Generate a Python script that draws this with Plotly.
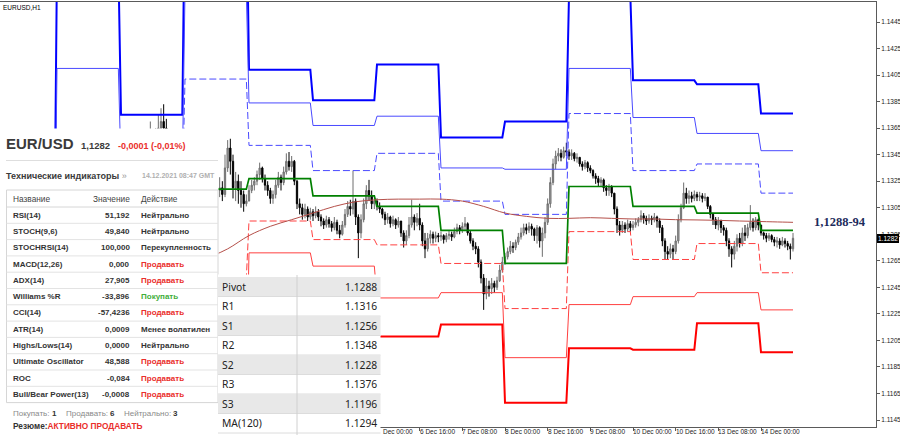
import plotly.graph_objects as go

# ---------------- DATA ----------------
# H1 bars; bar index 0 = 6 Dec 00:00 (weekends skipped). Prices stored as pips above 1.1200.
FIRST_BAR = -90
FIRST_OPEN = 42
close_pips = [45, 50, 75, 95, 130, 150, 140, 155, 165, 170, 165, 150, 145, 140, 142, 135, 138, 138,
              142, 145, 143, 146, 150, 148, 140, 136, 130, 126, 122, 120, 118, 120, 115, 135, 150, 140, 120, 125, 118, 115, 108, 110,
              118, 122, 125, 130, 135, 127, 122, 118, 112, 115, 122, 128, 124, 132, 140, 136, 140, 125, 108, 105, 100, 104, 98, 102,
              99, 102, 98, 95, 92, 96, 93, 90, 94, 88, 85, 92, 100, 106, 104, 110, 98, 86, 96, 108, 118, 114, 108, 110,
              106, 104, 100, 96, 98, 93, 96, 92, 95, 86, 80, 84, 92, 98, 94, 97, 92, 80, 74, 82, 85, 82, 84, 83,
              84, 81, 84, 85, 83, 87, 90, 88, 91, 93, 86, 80, 76, 74, 64, 52, 40, 46, 44, 48, 45, 50, 58, 64,
              68, 72, 76, 75, 79, 83, 86, 90, 88, 91, 89, 84, 90, 80, 86, 94, 108, 124, 138, 144, 146, 143, 148, 147,
              144, 146, 142, 143, 138, 136, 139, 135, 133, 129, 127, 124, 126, 120, 118, 121, 116, 104, 92, 88, 92, 89, 93, 90,
              92, 94, 96, 99, 97, 95, 97, 96, 98, 95, 90, 80, 72, 70, 74, 72, 80, 96, 105, 116, 112, 114, 112, 115,
              113, 114, 112, 113, 106, 100, 96, 92, 95, 90, 88, 80, 74, 70, 76, 82, 78, 86, 84, 90, 94, 90, 96, 92,
              86, 84, 82, 84, 81, 79, 80, 77, 80, 78, 76, 74, 82]
high_pips = [52, 58, 85, 110, 150, 170, 158, 165, 175, 180, 183, 172, 155, 150, 148, 145, 144, 142,
             146, 148, 147, 150, 156, 154, 150, 142, 138, 133, 128, 126, 126, 128, 125, 145, 156, 157, 145, 132, 130, 125, 118, 115,
             122, 126, 128, 133, 139, 136, 130, 125, 120, 118, 126, 132, 130, 136, 146, 147, 144, 141, 126, 112, 108, 108, 106, 105,
             104, 106, 104, 100, 97, 99, 98, 95, 98, 96, 92, 95, 104, 110, 111, 133, 112, 100, 100, 112, 122, 126, 118, 114,
             112, 109, 105, 102, 101, 99, 99, 97, 98, 95, 88, 88, 98, 111, 100, 101, 108, 94, 86, 86, 88, 87, 87, 86,
             87, 85, 86, 88, 87, 90, 93, 92, 94, 98, 94, 88, 82, 79, 76, 66, 55, 52, 50, 52, 50, 53, 62, 68,
             71, 75, 80, 79, 81, 86, 90, 93, 93, 94, 93, 90, 92, 91, 90, 98, 112, 128, 142, 148, 150, 149, 151, 154,
             149, 149, 147, 146, 143, 140, 141, 140, 137, 134, 131, 129, 128, 127, 122, 123, 122, 116, 106, 95, 95, 94, 96, 95,
             95, 97, 98, 103, 101, 99, 100, 99, 101, 99, 97, 92, 82, 76, 78, 77, 84, 100, 108, 124, 120, 118, 117, 118,
             117, 117, 116, 116, 112, 107, 101, 98, 98, 96, 92, 90, 82, 76, 80, 85, 86, 90, 92, 93, 107, 97, 98, 97,
             90, 87, 86, 86, 85, 83, 83, 82, 83, 82, 80, 78, 86]
low_pips = [40, 38, 48, 72, 92, 125, 128, 135, 150, 158, 155, 145, 135, 130, 132, 128, 130, 133,
            135, 139, 140, 141, 144, 143, 136, 130, 125, 120, 116, 114, 112, 113, 110, 113, 132, 130, 112, 110, 108, 105, 102, 106,
            110, 116, 118, 122, 126, 124, 118, 114, 108, 108, 112, 120, 118, 122, 130, 133, 132, 122, 104, 100, 96, 97, 95, 96,
            95, 97, 95, 91, 89, 90, 90, 87, 88, 85, 82, 84, 90, 98, 99, 100, 92, 67, 82, 94, 104, 110, 104, 104,
            103, 101, 97, 92, 93, 90, 91, 89, 90, 83, 75, 77, 82, 90, 88, 91, 88, 76, 67, 72, 78, 78, 79, 79,
            80, 78, 79, 81, 80, 82, 85, 85, 86, 88, 84, 78, 73, 70, 60, 48, 28, 36, 38, 40, 41, 43, 49, 56,
            62, 66, 70, 71, 73, 77, 81, 84, 85, 86, 84, 80, 78, 75, 68, 82, 92, 105, 122, 134, 140, 140, 142, 144,
            141, 141, 140, 139, 136, 133, 134, 132, 131, 127, 123, 121, 121, 117, 114, 114, 113, 100, 86, 84, 86, 86, 87, 87,
            88, 90, 91, 94, 93, 92, 93, 92, 94, 90, 86, 76, 66, 66, 67, 66, 70, 78, 94, 104, 108, 108, 109, 110,
            110, 110, 109, 110, 104, 97, 92, 89, 88, 86, 84, 76, 68, 60, 66, 72, 75, 76, 80, 82, 88, 87, 88, 88,
            84, 81, 79, 80, 79, 76, 75, 74, 76, 75, 73, 66, 72]

# Daily pivot levels (26 Nov ... 14 Dec), each day = 24 H1 bars
day_names = ["26 Nov", "29 Nov", "30 Nov", "1 Dec", "2 Dec", "3 Dec", "6 Dec",
             "7 Dec", "8 Dec", "9 Dec", "10 Dec", "13 Dec", "14 Dec"]
day_first_bar = [-144, -120, -96, -72, -48, -24, 0, 24, 48, 72, 96, 120, 144]
LAST_BAR = 156
lvl_pivot = [1.1208, 1.1278, 1.1272, 1.1319, 1.1327, 1.1314, 1.1306, 1.1288, 1.1263, 1.1321, 1.1306, 1.1301, 1.1288]
lvl_r1 = [1.1231, 1.1358, 1.1311, 1.1402, 1.1352, 1.1333, 1.1346, 1.1310, 1.1300, 1.1376, 1.1333, 1.1338, 1.1316]
lvl_r2 = [1.1252, 1.1410, 1.1336, 1.1467, 1.1384, 1.1367, 1.1374, 1.1335, 1.1334, 1.1410, 1.1373, 1.1361, 1.1348]
lvl_r3 = [1.1275, 1.1490, 1.1375, 1.1550, 1.1409, 1.1386, 1.1413, 1.1358, 1.1370, 1.1465, 1.1401, 1.1398, 1.1376]
lvl_s1 = [1.1187, 1.1226, 1.1247, 1.1252, 1.1295, 1.1281, 1.1277, 1.1263, 1.1229, 1.1287, 1.1266, 1.1278, 1.1256]
lvl_s2 = [1.1164, 1.1146, 1.1208, 1.1171, 1.1271, 1.1261, 1.1237, 1.1241, 1.1192, 1.1232, 1.1238, 1.1241, 1.1228]
lvl_s3 = [1.1143, 1.1094, 1.1183, 1.1107, 1.1238, 1.1228, 1.1208, 1.1217, 1.1158, 1.1199, 1.1198, 1.1218, 1.1196]

# MA(120) read at sample bars (pips above 1.1200)
ma_bar = [-62, -56, -48, -40, -32, -24, -16, -8, 0, 8, 16, 24, 32, 40, 48, 56, 64, 72, 80, 88,
          96, 104, 112, 120, 128, 136, 144, 152, 156]
ma_pips = [68.5, 74, 84, 91, 96, 101, 106, 109.5, 111, 111.5, 111.5, 111.5, 110, 106, 101, 98.5, 97, 97,
           97.5, 97, 96.5, 96.5, 96, 95.8, 95.5, 95, 94.6, 94.2, 94]

# axis labels
x_tick_bars = [16, 32, 48, 64, 80, 96, 112, 128, 144]
x_tick_text = ["6 Dec 16:00", "7 Dec 08:00", "8 Dec 00:00", "8 Dec 16:00", "9 Dec 08:00",
               "10 Dec 00:00", "10 Dec 16:00", "13 Dec 08:00", "14 Dec 00:00"]
y_ticks = [1.1145, 1.1165, 1.1185, 1.1205, 1.1225, 1.1245, 1.1265, 1.1285,
           1.1305, 1.1325, 1.1345, 1.1365, 1.1385, 1.1405, 1.1425, 1.1445]
last_price = 1.1282

# widget texts
ind_names = ["RSI(14)", "STOCH(9,6)", "STOCHRSI(14)", "MACD(12,26)", "ADX(14)", "Williams %R", "CCI(14)",
             "ATR(14)", "Highs/Lows(14)", "Ultimate Oscillator", "ROC", "Bull/Bear Power(13)"]
ind_values = ["51,192", "49,840", "100,000", "0,000", "27,905", "-33,896", "-57,4236", "0,0009", "0,0000",
              "48,588", "-0,084", "-0,0008"]
ind_actions = ["Нейтрально", "Нейтрально", "Перекупленность", "Продавать", "Продавать", "Покупать", "Продавать",
               "Менее волатилен", "Нейтрально", "Продавать", "Продавать", "Продавать"]
pv_labels = ["Pivot", "R1", "S1", "R2", "S2", "R3", "S3", "MA(120)"]
pv_values = ["1.1288", "1.1316", "1.1256", "1.1348", "1.1228", "1.1376", "1.1196", "1.1294"]

# ---------------- BUILD ----------------
def to_price(v):
    return round(1.12 + v / 10000.0, 5)

bars = list(range(FIRST_BAR, FIRST_BAR + len(close_pips)))
closes = [to_price(v) for v in close_pips]
opens = [to_price(FIRST_OPEN)] + closes[:-1]
highs = [max(to_price(h), o, c) for h, o, c in zip(high_pips, opens, closes)]
lows = [min(to_price(l), o, c) for l, o, c in zip(low_pips, opens, closes)]

pv_bars = list(range(day_first_bar[0], LAST_BAR + 1))


def step_series(levels):
    out = []
    for b in pv_bars:
        d = max(k for k in range(len(day_first_bar)) if day_first_bar[k] <= b)
        out.append(levels[d])
    return out


fig = go.Figure()
line_specs = [
    (lvl_r3, "#0000ff", 2.0, "solid"),
    (lvl_r2, "#4a4aff", 1.0, "solid"),
    (lvl_r1, "#4a4aff", 1.0, "7px,3px"),
    (lvl_s3, "#ff0000", 2.0, "solid"),
    (lvl_s2, "#ff4040", 1.0, "solid"),
    (lvl_s1, "#ff4040", 1.0, "7px,3px"),
    (lvl_pivot, "#008000", 1.7, "solid"),
]
for lv, col, w, dash in line_specs:
    fig.add_trace(go.Scatter(x=pv_bars, y=step_series(lv), mode="lines",
                             line=dict(color=col, width=w, dash=dash), hoverinfo="skip"))

fig.add_trace(go.Scatter(x=ma_bar, y=[to_price(v) for v in ma_pips], mode="lines",
                         line=dict(color="#b5504a", width=1, shape="spline"), hoverinfo="skip"))

fig.add_trace(go.Candlestick(
    x=bars, open=opens, high=highs, low=lows, close=closes,
    increasing=dict(line=dict(color="#6e6e6e", width=1), fillcolor="#a9a9a9"),
    decreasing=dict(line=dict(color="#000000", width=1), fillcolor="#000000"),
    whiskerwidth=0, hoverinfo="skip"))

# ---------------- LAYOUT ----------------
W, H = 900, 435
ML, MR, MT, MB = 0, 24, 2, 8
PW, PH = W - ML - MR, H - MT - MB


def xp(X):
    return (X - ML) / PW


def yp(Y):
    return (H - MB - Y) / PH


shapes = []


def rect(x0, y0, x1, y1, fill="rgba(0,0,0,0)", line="rgba(0,0,0,0)", lw=0):
    shapes.append(dict(type="rect", xref="paper", yref="paper", x0=xp(x0), x1=xp(x1),
                       y0=yp(y1), y1=yp(y0), fillcolor=fill, line=dict(color=line, width=lw), layer="above"))


def seg(x0, y0, x1, y1, color, lw=1):
    shapes.append(dict(type="line", xref="paper", yref="paper", x0=xp(x0), x1=xp(x1),
                       y0=yp(y0), y1=yp(y1), line=dict(color=color, width=lw), layer="above"))


ann = []
SANS = "Liberation Sans, Arial, sans-serif"


def txt(X, Y, s, size, color="#333333", anchor="left", family=SANS):
    ann.append(dict(xref="paper", yref="paper", x=xp(X), y=yp(Y), text=s, showarrow=False,
                    xanchor=anchor, yanchor="middle", borderpad=0, borderwidth=0,
                    font=dict(size=size, color=color, family=family)))


RED = "#ea2e2b"
GREEN = "#3fae3a"

# left widget
rect(0, 128.5, 218.5, 437, fill="#ffffff")
txt(6, 143.5, "<b>EUR/USD</b>", 15, "#3a3a3a")
txt(81, 145.5, "<b>1,1282</b>", 9.5, "#3a3a3a")
txt(118, 145.5, "<b>-0,0001 (-0,01%)</b>", 9, RED)
seg(6, 160.5, 218, 160.5, "#dedede", 1)
txt(6, 175.5, "<b>Технические индикаторы</b> <span style='color:#999'>»</span>", 9, "#3a3a3a")
txt(142, 175.5, "<b>14.12.2021 08:47 GMT</b>", 7, "#b0b0b0")
rect(6.5, 190, 218, 402.6, line="#d6d6d6", lw=1)
seg(6.5, 207, 218, 207, "#d6d6d6", 1)
txt(13, 198.5, "Название", 8.3, "#444444")
txt(130, 198.5, "Значение", 8.3, "#444444", anchor="right")
txt(140.5, 198.5, "Действие", 8.3, "#444444")
ROW = 16.3
for k, (nm, val, act) in enumerate(zip(ind_names, ind_values, ind_actions)):
    yc = 207 + ROW * (k + 0.5)
    if k < len(ind_names) - 1:
        seg(6.5, 207 + ROW * (k + 1), 218, 207 + ROW * (k + 1), "#e3e3e3", 1)
    col = RED if act == "Продавать" else (GREEN if act == "Покупать" else "#333333")
    txt(13, yc, "<b>" + nm + "</b>", 8, "#333333")
    txt(130, yc, "<b>" + val + "</b>", 8, "#333333", anchor="right")
    txt(140.5, yc, "<b>" + act + "</b>", 8, col)
txt(13, 413, "Покупать:", 8, "#8a8a8a")
txt(52, 413, "<b>1</b>", 8, "#333333")
txt(65.5, 413, "Продавать:", 8, "#8a8a8a")
txt(110, 413, "<b>6</b>", 8, "#333333")
txt(124, 413, "Нейтрально:", 8, "#8a8a8a")
txt(172.5, 413, "<b>3</b>", 8, "#333333")
txt(13, 426, "<b>Резюме:</b><b><span style='color:%s'>АКТИВНО ПРОДАВАТЬ</span></b>" % RED, 8.3, "#333333")

# pivot table
rect(218, 274.5, 380.5, 437, fill="#ffffff")
PROW = 19.5
for k, (lab, val) in enumerate(zip(pv_labels, pv_values)):
    top = 277 + PROW * k
    if k % 2 == 0:
        rect(218, top, 380.5, top + PROW, fill="#e8e8e8")
    seg(218, top + PROW, 380.5, top + PROW, "#dcdcdc", 1)
    txt(221.5, top + PROW / 2, lab, 10.3, "#222222", family="Noto Sans, sans-serif")
    txt(377, top + PROW / 2, val, 10.3, "#222222", anchor="right", family="Noto Sans, sans-serif")
seg(297, 275, 297, 437, "#d0d0d0", 1)

# chart texts
txt(3, 7.5, "EURUSD,H1", 6.5, "#000000")
txt(814, 222, "<b>1,1288-94</b>", 12.5, "#1d2b5c", family="Liberation Serif, Times New Roman, serif")

for b, t in zip(x_tick_bars, x_tick_text):
    ann.append(dict(xref="x", yref="paper", x=b, y=0, yshift=-1, text=t, showarrow=False,
                    xanchor="left", yanchor="top", borderpad=0, borderwidth=0,
                    font=dict(size=6.5, color="#222222", family=SANS)))
ann.append(dict(xref="x", yref="paper", x=0, y=0, yshift=-1, xshift=6, text="Dec 00:00", showarrow=False,
                xanchor="left", yanchor="top", borderpad=0, borderwidth=0,
                font=dict(size=6.5, color="#222222", family=SANS)))
ann.append(dict(xref="paper", yref="y", x=1, y=last_price, xshift=1, text="1.1282", showarrow=False,
                xanchor="left", yanchor="middle", bgcolor="#000000", borderpad=1, borderwidth=0,
                font=dict(size=6.5, color="#ffffff", family=SANS)))

X_LEFT = -377 / (64 / 24)
X_RIGHT = (PW - 377) / (64 / 24)
Y_BOTTOM = 1.1445 - (427 - 22) / 13267
Y_TOP = 1.1445 + (22 - 2) / 13267

fig.update_layout(
    width=W, height=H, margin=dict(l=ML, r=MR, t=MT, b=MB, pad=0, autoexpand=False),
    paper_bgcolor="#ffffff", plot_bgcolor="#ffffff", showlegend=False,
    xaxis=dict(range=[X_LEFT, X_RIGHT], showgrid=False, zeroline=False, showline=True, mirror=True,
               linecolor="#5a5a5a", linewidth=1, ticks="outside", ticklen=3, tickcolor="#5a5a5a",
               tickvals=[0] + x_tick_bars, showticklabels=False, rangeslider=dict(visible=False), fixedrange=True),
    yaxis=dict(range=[Y_BOTTOM, Y_TOP], side="right", showgrid=False, zeroline=False, showline=True, mirror=True,
               linecolor="#5a5a5a", linewidth=1, ticks="outside", ticklen=3, tickcolor="#5a5a5a",
               tickvals=y_ticks, ticktext=["%.4f" % v for v in y_ticks],
               tickfont=dict(size=6.5, color="#222222", family=SANS), fixedrange=True),
    shapes=shapes, annotations=ann,
)

fig.write_html("out.html", config={"displayModeBar": False},
               post_script="document.body.style.margin='0px';document.body.style.overflow='hidden';")
